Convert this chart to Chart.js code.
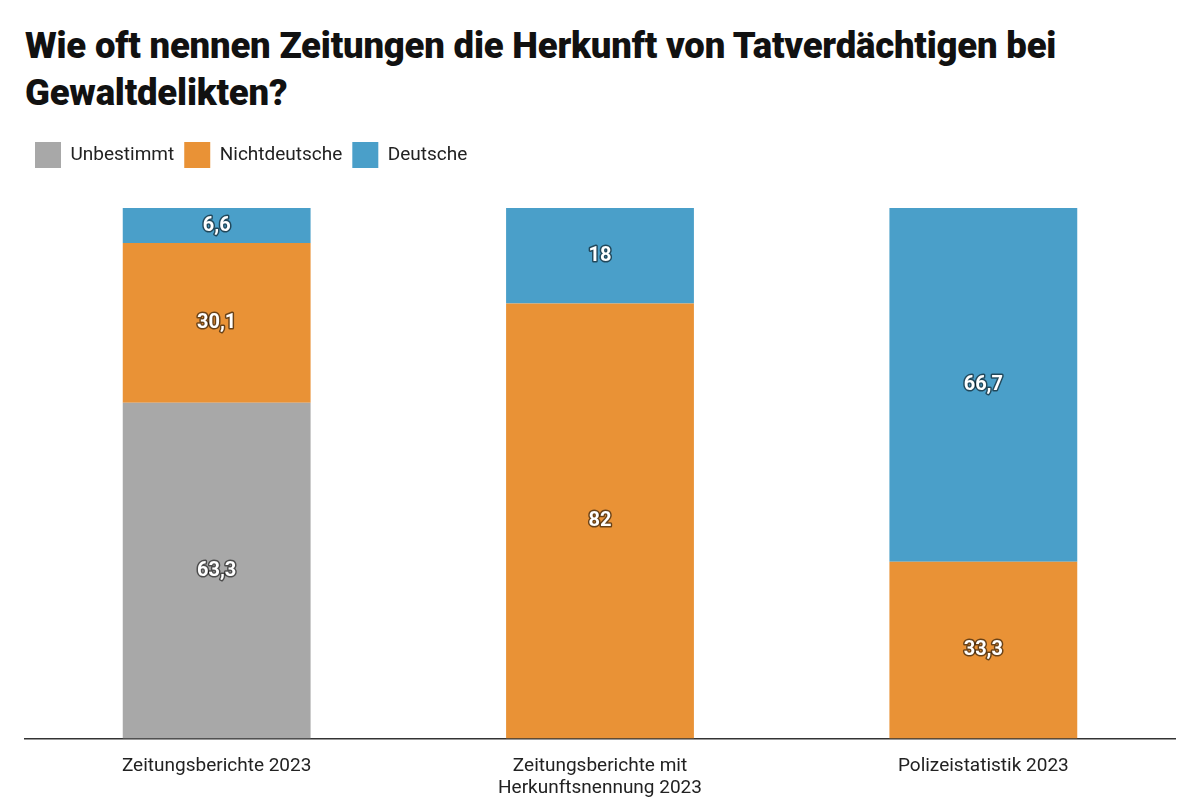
<!DOCTYPE html>
<html><head><meta charset="utf-8">
<script src="https://cdn.jsdelivr.net/npm/chart.js@4"></script>
<style>
body{margin:0;background:#fff;font-family:Roboto,sans-serif;}
h1{position:absolute;left:25px;top:22px;margin:0;font-size:36.5px;line-height:47px;font-weight:900;color:#111;width:1170px;letter-spacing:-0.2px}
#wrap{position:absolute;left:0;top:132px;width:1200px;height:680px}
</style></head><body>
<h1>Wie oft nennen Zeitungen die Herkunft von Tatverdächtigen bei Gewaltdelikten?</h1>
<div id="wrap"><canvas id="c"></canvas></div>
<script>
const categories=[["Zeitungsberichte 2023"],["Zeitungsberichte mit","Herkunftsnennung 2023"],["Polizeistatistik 2023"]];
const unbestimmt=[63.3,0,0];
const nichtdeutsche=[30.1,82,33.3];
const deutsche=[6.6,18,66.7];
const fmt=v=>String(v).replace('.',',');
const labelPlugin={id:'lbl',afterDatasetsDraw(ch){const c=ch.ctx;c.save();c.font='bold 20px Roboto';c.textAlign='center';c.textBaseline='middle';
ch.data.datasets.forEach((ds,i)=>{ch.getDatasetMeta(i).data.forEach((b,j)=>{const v=ds.data[j];if(!v)return;const y=(b.y+b.base)/2;
c.lineWidth=3;c.strokeStyle='rgba(0,0,0,0.55)';c.lineJoin='round';c.strokeText(fmt(v),b.x,y);c.fillStyle='#fff';c.fillText(fmt(v),b.x,y);});});c.restore();}};
const legendPad={id:'lp',beforeUpdate(ch){const L=ch.legend;if(L&&!L._patched){const f=L.fit;L.fit=function(){f.call(this);this.height+=30;};L._patched=true;}}};
new Chart(document.getElementById('c'),{type:'bar',
data:{labels:categories,datasets:[
{label:'Unbestimmt',data:unbestimmt,backgroundColor:'#a8a8a8'},
{label:'Nichtdeutsche',data:nichtdeutsche,backgroundColor:'#e99236'},
{label:'Deutsche',data:deutsche,backgroundColor:'#4a9fc9'}]},
options:{responsive:true,maintainAspectRatio:false,animation:false,
layout:{padding:{left:25,right:25,top:0,bottom:4}},
datasets:{bar:{categoryPercentage:1,barPercentage:0.49}},
plugins:{tooltip:{enabled:false},legend:{position:'top',align:'start',labels:{boxWidth:26,boxHeight:26,font:{size:19,family:'Roboto'},color:'#222',padding:10}}},
scales:{x:{stacked:true,grid:{display:false},border:{color:'#333',width:1.5},ticks:{font:{size:19,family:'Roboto'},color:'#222',padding:8}},
y:{stacked:true,display:false,min:0,max:100}}},
plugins:[labelPlugin,legendPad]});
</script></body></html>
